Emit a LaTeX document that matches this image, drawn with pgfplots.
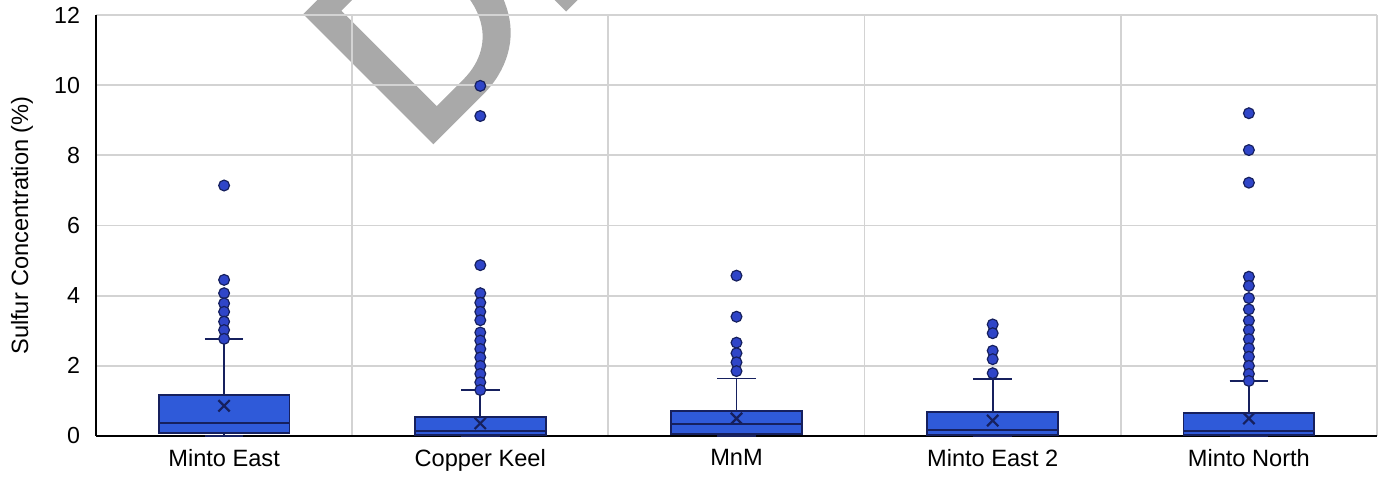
\documentclass[border=0pt]{standalone}
\usepackage{fontspec}
\setmainfont{Liberation Sans}
\newfontfamily\wmfont{Liberation Sans}[FakeBold=2]
\usepackage{pgfplots}
\pgfplotsset{compat=1.18}
\usepgfplotslibrary{statistics}
\definecolor{boxfill}{HTML}{2F5AD9}
\definecolor{navy}{HTML}{16205E}
\definecolor{outfill}{HTML}{2F45C8}
\definecolor{gridc}{HTML}{D3D3D3}
\begin{document}
\begin{tikzpicture}
% watermark
\begin{scope}[transparency group, opacity=0.5]
\node[rotate=45, anchor=base west, text=black!67, font=\wmfont\fontsize{130}{130}\selectfont, inner sep=0pt] at (209pt,162.5pt) {DRAFT};
\end{scope}
\begin{axis}[
  at={(48pt,22.5pt)}, anchor=south west,
  scale only axis, width=640.5pt, height=210.5pt,
  xmin=0.5, xmax=5.5, ymin=0, ymax=12,
  axis x line*=bottom, axis y line*=left,
  axis line style={black, line width=0.9pt, -},
  xtick={1,2,3,4,5},
  xticklabels={Minto East, Copper Keel, MnM, Minto East 2, Minto North},
  minor xtick={1.5,2.5,3.5,4.5,5.5},
  ytick={0,2,4,6,8,10,12},
  ymajorgrids, xminorgrids,
  grid style={gridc, line width=0.9pt},
  major tick length=0pt, minor tick length=0pt,
  /pgf/number format/assume math mode=true,
  yticklabel style={font=\fontsize{11.6}{13}\selectfont, xshift=-4.5pt},
  xticklabel style={font=\fontsize{11.8}{14}\selectfont, yshift=-3pt},
  ylabel={Sulfur Concentration (\%)},
  ylabel style={font=\fontsize{11.8}{14}\selectfont, at={(axis description cs:-0.0578,0.5)}, anchor=center},
  boxplot/draw direction=y,
  clip=false,
]
% boxes
\addplot[draw=navy, fill=boxfill, line width=0.9pt,
  boxplot prepared={lower whisker=0, lower quartile=0.08, median=0.38, upper quartile=1.17, upper whisker=2.77, draw position=1, box extend=0.51, whisker extend=0.15}] coordinates {};
\addplot[draw=navy, fill=boxfill, line width=0.9pt,
  boxplot prepared={lower whisker=0, lower quartile=0.03, median=0.14, upper quartile=0.53, upper whisker=1.31, draw position=2, box extend=0.51, whisker extend=0.15}] coordinates {};
\addplot[draw=navy, fill=boxfill, line width=0.9pt,
  boxplot prepared={lower whisker=0, lower quartile=0.05, median=0.34, upper quartile=0.71, upper whisker=1.64, draw position=3, box extend=0.51, whisker extend=0.15}] coordinates {};
\addplot[draw=navy, fill=boxfill, line width=0.9pt,
  boxplot prepared={lower whisker=0, lower quartile=0.03, median=0.17, upper quartile=0.69, upper whisker=1.62, draw position=4, box extend=0.51, whisker extend=0.15}] coordinates {};
\addplot[draw=navy, fill=boxfill, line width=0.9pt,
  boxplot prepared={lower whisker=0, lower quartile=0.03, median=0.15, upper quartile=0.65, upper whisker=1.57, draw position=5, box extend=0.51, whisker extend=0.15}] coordinates {};
% means
\addplot[only marks, mark=x, mark size=4pt, navy, line width=1.1pt] coordinates {
(1,0.86) (2,0.36) (3,0.50) (4,0.44) (5,0.50)};
% outliers
\addplot[only marks, mark=*, mark size=2.7pt, mark options={fill=outfill, draw=navy, line width=0.6pt}] coordinates {
(1,7.14) (1,4.45) (1,4.07) (1,3.78) (1,3.54) (1,3.26) (1,3.02) (1,2.77)
(2,9.98) (2,9.12) (2,4.87) (2,4.07) (2,3.80) (2,3.54) (2,3.30) (2,2.95) (2,2.72) (2,2.48) (2,2.24) (2,2.00) (2,1.77) (2,1.53) (2,1.31)
(3,4.57) (3,3.40) (3,2.66) (3,2.36) (3,2.10) (3,1.85)
(4,3.18) (4,2.93) (4,2.43) (4,2.19) (4,1.79)
(5,9.20) (5,8.15) (5,7.22) (5,4.54) (5,4.28) (5,3.93) (5,3.61) (5,3.29) (5,3.02) (5,2.76) (5,2.50) (5,2.26) (5,2.00) (5,1.77) (5,1.57)
};
\end{axis}
\pgfresetboundingbox
\useasboundingbox (0,0) rectangle (694.5pt,240.5pt);
\end{tikzpicture}
\end{document}
